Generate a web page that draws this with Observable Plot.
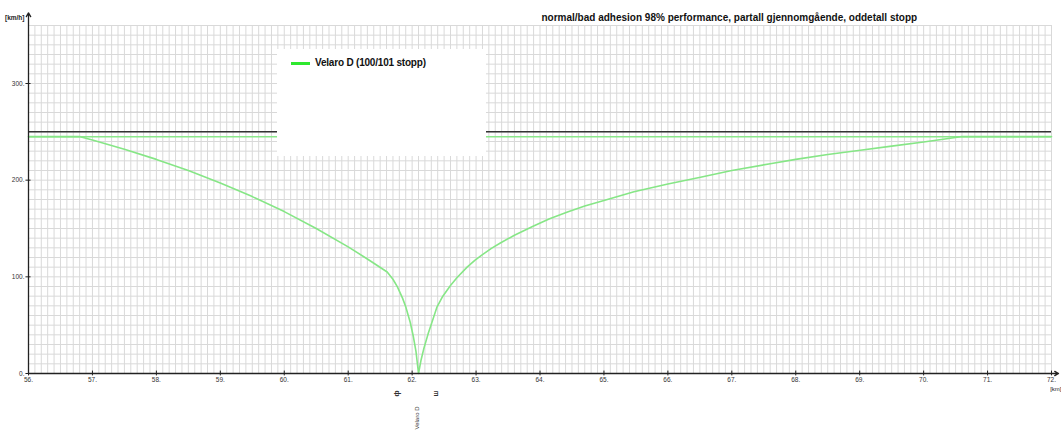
<!DOCTYPE html>
<html>
<head>
<meta charset="utf-8">
<script src="https://cdn.jsdelivr.net/npm/d3@7"></script>
<script src="https://cdn.jsdelivr.net/npm/@observablehq/plot@0.6"></script>
<style>
  html, body { margin: 0; padding: 0; background: #fff; }
  #wrap { position: relative; width: 1061px; height: 435px; font-family: "Liberation Sans", Arial, sans-serif; }
  #legend { position: absolute; left: 277px; top: 49px; width: 209px; height: 107px; background: #fff; }
  #legend .sw { position: absolute; left: 14px; top: 13px; width: 19px; height: 3px; background: #2ee82e; }
  #legend .lb { position: absolute; left: 38px; top: 8px; font-size: 10px; font-weight: bold; color: #111; white-space: nowrap; letter-spacing: -0.2px; }
</style>
</head>
<body>
<div id="wrap"></div>
<script>
// ---- data ----
const title = "normal/bad adhesion 98% performance, partall gjennomgående, oddetall stopp";
const seriesName = "Velaro D (100/101 stopp)";
const yUnit = "[km/h]";
const xUnit = "[km]";
const km = [56.0, 56.81, 57.0, 57.5, 58.0, 58.5, 59.0, 59.5, 60.0, 60.5, 61.0, 61.3, 61.61, 61.7, 61.77, 61.85, 61.9, 61.97, 62.02, 62.06, 62.1,
            62.14, 62.18, 62.25, 62.3, 62.39, 62.48, 62.6, 62.7, 62.86, 62.98, 63.1, 63.24, 63.38, 63.6, 63.9, 64.15, 64.43, 64.7, 65.0, 65.47, 66.0, 66.51, 67.0, 67.6, 68.0, 68.5, 69.01, 69.5, 70.0, 70.58, 72.0];
const speed = [245, 245, 241.5, 232, 221.5, 210, 197, 183, 167.5, 150, 131, 118.5, 105, 97.5, 89.6, 78, 69, 53, 38, 23, 0,
               14, 25, 41, 51, 69, 80, 91, 99, 110, 117, 123, 129.4, 135, 143, 152.5, 160, 167, 173.2, 179, 188, 196, 203, 210, 217, 221.5, 226.5, 231, 235.2, 239.5, 245, 245];
const lineSpeedLimit = 250;
const throughSpeed = 245;
const xTicks = [56, 57, 58, 59, 60, 61, 62, 63, 64, 65, 66, 67, 68, 69, 70, 71, 72];
const yTicks = [0, 100, 200, 300];
const stationMarks = [{km: 61.8, label: "ф"}, {km: 62.4, label: "ш"}];
const stopLabel = [{km: 62.1, label: "Velaro D"}];

const curve = km.map((k, i) => ({km: k, v: speed[i]}));

const gridX = d3.range(561, 721).map(d => d / 10);
const gridY = d3.range(10, 361, 10);
const font = "Liberation Sans, Arial, sans-serif";

const chart = Plot.plot({
  width: 1061,
  height: 435,
  marginLeft: 28,
  marginRight: 10,
  marginTop: 25,
  marginBottom: 62,
  style: {fontFamily: font, background: "#fff", overflow: "visible"},
  x: {domain: [56, 72], axis: null},
  y: {domain: [0, 360], axis: null},
  marks: [
    Plot.ruleX(gridX, {stroke: "#d9d9d9", strokeWidth: 1}),
    Plot.ruleY(gridY, {stroke: "#d9d9d9", strokeWidth: 1}),
    Plot.ruleY([lineSpeedLimit], {stroke: "#333", strokeWidth: 1.5}),
    Plot.ruleY([throughSpeed], {stroke: "#8be88b", strokeWidth: 1.5}),
    Plot.line(curve, {x: "km", y: "v", stroke: "#86e686", strokeWidth: 1.6, curve: "linear"}),
    // axes lines with arrows
    Plot.arrow([{x1: 56, y1: 0, x2: 56, y2: 373}], {x1: "x1", y1: "y1", x2: "x2", y2: "y2", stroke: "#222", strokeWidth: 1.3, headLength: 5, clip: false}),
    Plot.arrow([{x1: 56, y1: 0, x2: 72.11, y2: 0}], {x1: "x1", y1: "y1", x2: "x2", y2: "y2", stroke: "#222", strokeWidth: 1.3, headLength: 5, clip: false}),
    Plot.ruleX(xTicks, {y1: -2.5, y2: 2.5, stroke: "#222", strokeWidth: 1, clip: false}),
    Plot.ruleY(yTicks, {x1: 55.96, x2: 56.04, stroke: "#222", strokeWidth: 1, clip: false}),
    Plot.text(xTicks, {x: d => d, frameAnchor: "bottom", dy: 8, text: d => d + ".", fontSize: 6.5, fill: "#333"}),
    Plot.text(yTicks, {y: d => d, frameAnchor: "left", dx: -4, textAnchor: "end", text: d => d + ".", fontSize: 6.5, fill: "#333"}),
    Plot.text([yUnit], {frameAnchor: "top-left", dx: -4, dy: -10, textAnchor: "end", fontSize: 6.5, fontWeight: "bold", fill: "#222"}),
    Plot.text([xUnit], {frameAnchor: "bottom-right", dx: 10, dy: 17, textAnchor: "end", fontSize: 6, fill: "#222"}),
    Plot.text([title], {frameAnchor: "top-left", dx: 513, dy: -12, textAnchor: "start", fontSize: 10, fontWeight: "bold", fill: "#111"}),
    Plot.text(stationMarks, {x: "km", text: "label", frameAnchor: "bottom", dy: 20, rotate: -90, fontSize: 7, fontWeight: "bold", fill: "#333"}),
    Plot.text(stopLabel, {x: "km", text: "label", frameAnchor: "bottom", dy: 33, rotate: -90, textAnchor: "end", fontSize: 6, fill: "#333"})
  ]
});

const wrap = document.getElementById("wrap");
wrap.appendChild(chart);
const legend = document.createElement("div");
legend.id = "legend";
legend.innerHTML = '<div class="sw"></div><div class="lb"></div>';
legend.querySelector(".lb").textContent = seriesName;
wrap.appendChild(legend);
</script>
</body>
</html>
